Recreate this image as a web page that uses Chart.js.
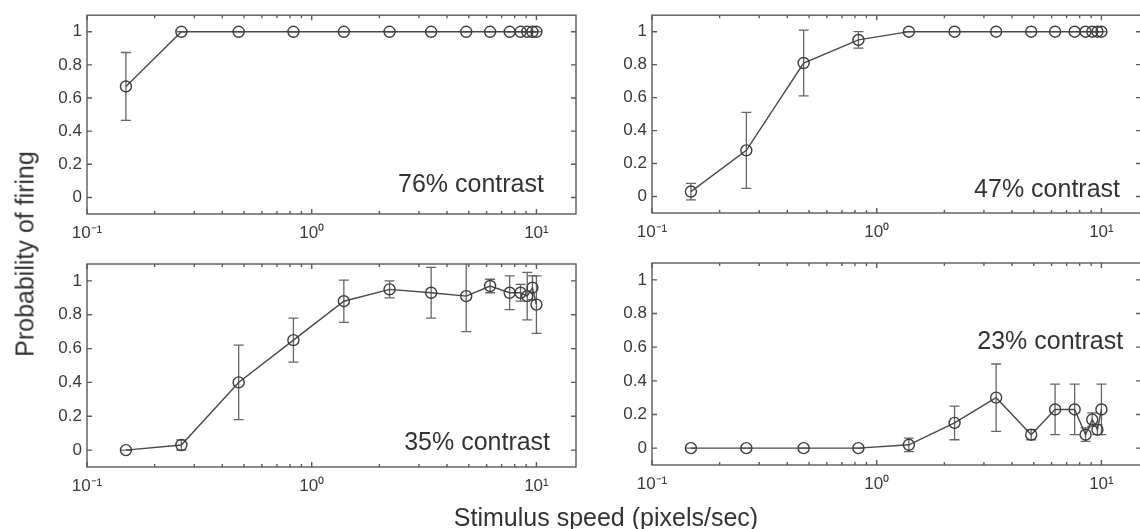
<!DOCTYPE html>
<html><head><meta charset="utf-8">
<script src="https://cdn.jsdelivr.net/npm/chart.js@4.4.1/dist/chart.umd.min.js"></script>
<style>
html,body{margin:0;padding:0;background:#fff;overflow:hidden;width:1140px;height:529px;}
#wrap{position:relative;width:1140px;height:529px;overflow:hidden;background:#fff;}
canvas{position:absolute;left:0;top:0;}
.t{position:absolute;font-family:"Liberation Sans",Arial,sans-serif;font-size:25px;line-height:1;color:#333;white-space:nowrap;}
#ytitle{left:25px;top:254px;transform:translate(-50%,-50%) rotate(-90deg);}
#xtitle{left:606px;top:517px;transform:translate(-50%,-50%);}
</style></head><body>
<div id="wrap">
<canvas id="c76" width="1160" height="529"></canvas>
<canvas id="c47" width="1160" height="529"></canvas>
<canvas id="c35" width="1160" height="529"></canvas>
<canvas id="c23" width="1160" height="529"></canvas>
<div class="t" id="ytitle">Probability of firing</div>
<div class="t" id="xtitle">Stimulus speed (pixels/sec)</div>
</div>
<script>
// ---- data ----
const speeds = [0.149, 0.263, 0.473, 0.829, 1.39, 2.22, 3.40, 4.87, 6.22, 7.6, 8.5, 9.1, 9.6, 10.0];

const p76 = [0.67, 1, 1, 1, 1, 1, 1, 1, 1, 1, 1, 1, 1, 1];
const e76 = [0.205, 0, 0, 0, 0, 0, 0, 0, 0, 0, 0, 0, 0, 0];

const p47 = [0.03, 0.28, 0.81, 0.95, 1, 1, 1, 1, 1, 1, 1, 1, 1, 1];
const e47 = [0.05, 0.23, 0.20, 0.05, 0, 0, 0, 0, 0, 0, 0, 0, 0, 0];

const p35 = [0.00, 0.03, 0.40, 0.65, 0.88, 0.95, 0.93, 0.91, 0.97, 0.93, 0.93, 0.91, 0.96, 0.86];
const e35 = [0.00, 0.03, 0.22, 0.13, 0.125, 0.05, 0.15, 0.21, 0.04, 0.10, 0.05, 0.14, 0.07, 0.17];

const p23 = [0, 0, 0, 0, 0.02, 0.15, 0.30, 0.08, 0.23, 0.23, 0.08, 0.17, 0.11, 0.23];
const e23 = [0, 0, 0, 0, 0.04, 0.10, 0.20, 0.03, 0.15, 0.15, 0.04, 0.04, 0.03, 0.15];

const xTicks = [0.1, 1, 10];
const xTickLabels = ['10\u207B\u00B9', '10\u2070', '10\u00B9'];
const xMinor = [0.2, 0.3, 0.4, 0.5, 0.6, 0.7, 0.8, 0.9, 2, 3, 4, 5, 6, 7, 8, 9];
const yTicks = [0, 0.2, 0.4, 0.6, 0.8, 1];
const yTickLabels = ['0', '0.2', '0.4', '0.6', '0.8', '1'];

const panelLabels = ['76% contrast', '47% contrast', '35% contrast', '23% contrast'];

// ---- layout ----
const CW = 1160, CH = 529, YW = 60, XH = 40;
const FONT = '"Liberation Sans", Arial, sans-serif';

const framePlugin = {
  id: 'frame',
  afterDraw(chart) {
    const {ctx, chartArea: a, scales: {x, y}} = chart;
    ctx.save();
    ctx.strokeStyle = '#5a5a5a';
    ctx.lineWidth = 1.4;
    ctx.strokeRect(a.left, a.top, a.right - a.left, a.bottom - a.top);
    ctx.beginPath();
    yTicks.forEach(v => {
      const py = y.getPixelForValue(v);
      ctx.moveTo(a.left, py); ctx.lineTo(a.left + 5, py);
      ctx.moveTo(a.right, py); ctx.lineTo(a.right - 5, py);
    });
    xTicks.forEach(v => {
      const px = x.getPixelForValue(v);
      ctx.moveTo(px, a.bottom); ctx.lineTo(px, a.bottom - 5);
      ctx.moveTo(px, a.top); ctx.lineTo(px, a.top + 5);
    });
    xMinor.forEach(v => {
      const px = x.getPixelForValue(v);
      ctx.moveTo(px, a.bottom); ctx.lineTo(px, a.bottom - 3);
      ctx.moveTo(px, a.top); ctx.lineTo(px, a.top + 3);
    });
    ctx.stroke();
    ctx.restore();
  }
};

const errPlugin = {
  id: 'errbars',
  beforeDatasetsDraw(chart) {
    const {ctx, chartArea: a, scales: {x, y}} = chart;
    ctx.save();
    ctx.beginPath();
    ctx.rect(a.left, a.top, a.right - a.left, a.bottom - a.top);
    ctx.clip();
    ctx.strokeStyle = '#666';
    ctx.lineWidth = 1.3;
    chart.data.datasets.forEach(ds => {
      ds.data.forEach((pt, i) => {
        const e = ds.errors[i];
        const px = x.getPixelForValue(pt.x);
        const y1 = y.getPixelForValue(pt.y - e);
        const y2 = y.getPixelForValue(pt.y + e);
        ctx.beginPath();
        ctx.moveTo(px, y1); ctx.lineTo(px, y2);
        ctx.moveTo(px - 5, y1); ctx.lineTo(px + 5, y1);
        ctx.moveTo(px - 5, y2); ctx.lineTo(px + 5, y2);
        ctx.stroke();
      });
    });
    ctx.restore();
  }
};

const labelPlugin = {
  id: 'panelLabel',
  afterDraw(chart) {
    const o = chart.options.plugins.panelLabel;
    const {ctx, scales: {x, y}} = chart;
    ctx.save();
    ctx.font = '25px ' + FONT;
    ctx.fillStyle = '#333';
    ctx.textAlign = 'right';
    ctx.textBaseline = 'middle';
    ctx.fillText(o.text, x.getPixelForValue(o.x), y.getPixelForValue(o.y));
    ctx.restore();
  }
};

function makePanel(id, values, errors, box, label) {
  new Chart(document.getElementById(id), {
    type: 'scatter',
    data: {
      datasets: [{
        data: speeds.map((s, i) => ({x: s, y: values[i]})),
        errors: errors,
        showLine: true,
        borderColor: '#484848',
        borderWidth: 1.4,
        tension: 0,
        pointRadius: 5.5,
        pointStyle: 'circle',
        pointBorderColor: '#3c3c3c',
        pointBackgroundColor: 'rgba(0,0,0,0)',
        pointBorderWidth: 1.4,
        clip: false
      }]
    },
    options: {
      responsive: false,
      animation: false,
      devicePixelRatio: 1,
      events: [],
      layout: {padding: {left: box.L - YW, top: box.T, right: CW - box.R, bottom: CH - XH - box.B}},
      plugins: {legend: {display: false}, tooltip: {enabled: false}, panelLabel: label},
      scales: {
        x: {
          type: 'logarithmic', min: 0.1, max: 15,
          grid: {display: false, drawTicks: false},
          border: {display: false},
          afterBuildTicks: s => { s.ticks = xTicks.map(v => ({value: v, major: true})); },
          afterFit: s => { s.height = XH; },
          ticks: {
            autoSkip: false, maxRotation: 0, padding: 9, color: '#3a3a3a',
            font: {family: FONT, size: 17},
            callback: (v, i) => xTickLabels[i]
          }
        },
        y: {
          type: 'linear', min: -0.1, max: 1.1,
          grid: {display: false, drawTicks: false},
          border: {display: false},
          afterBuildTicks: s => { s.ticks = yTicks.map(v => ({value: v})); },
          afterFit: s => { s.width = YW; },
          ticks: {
            autoSkip: false, padding: 5, color: '#3a3a3a',
            font: {family: FONT, size: 17},
            callback: (v, i) => yTickLabels[i]
          }
        }
      }
    },
    plugins: [errPlugin, framePlugin, labelPlugin]
  });
}

makePanel('c76', p76, e76, {L: 87, T: 11, R: 576, B: 214}, {text: panelLabels[0], x: 10.8, y: 0.073});
makePanel('c47', p47, e47, {L: 652, T: 10, R: 1141, B: 213}, {text: panelLabels[1], x: 12.1, y: 0.04});
makePanel('c35', p35, e35, {L: 87, T: 264, R: 576, B: 467}, {text: panelLabels[2], x: 11.5, y: 0.044});
makePanel('c23', p23, e23, {L: 652, T: 263, R: 1141, B: 465}, {text: panelLabels[3], x: 12.5, y: 0.63});
</script>
</body></html>
